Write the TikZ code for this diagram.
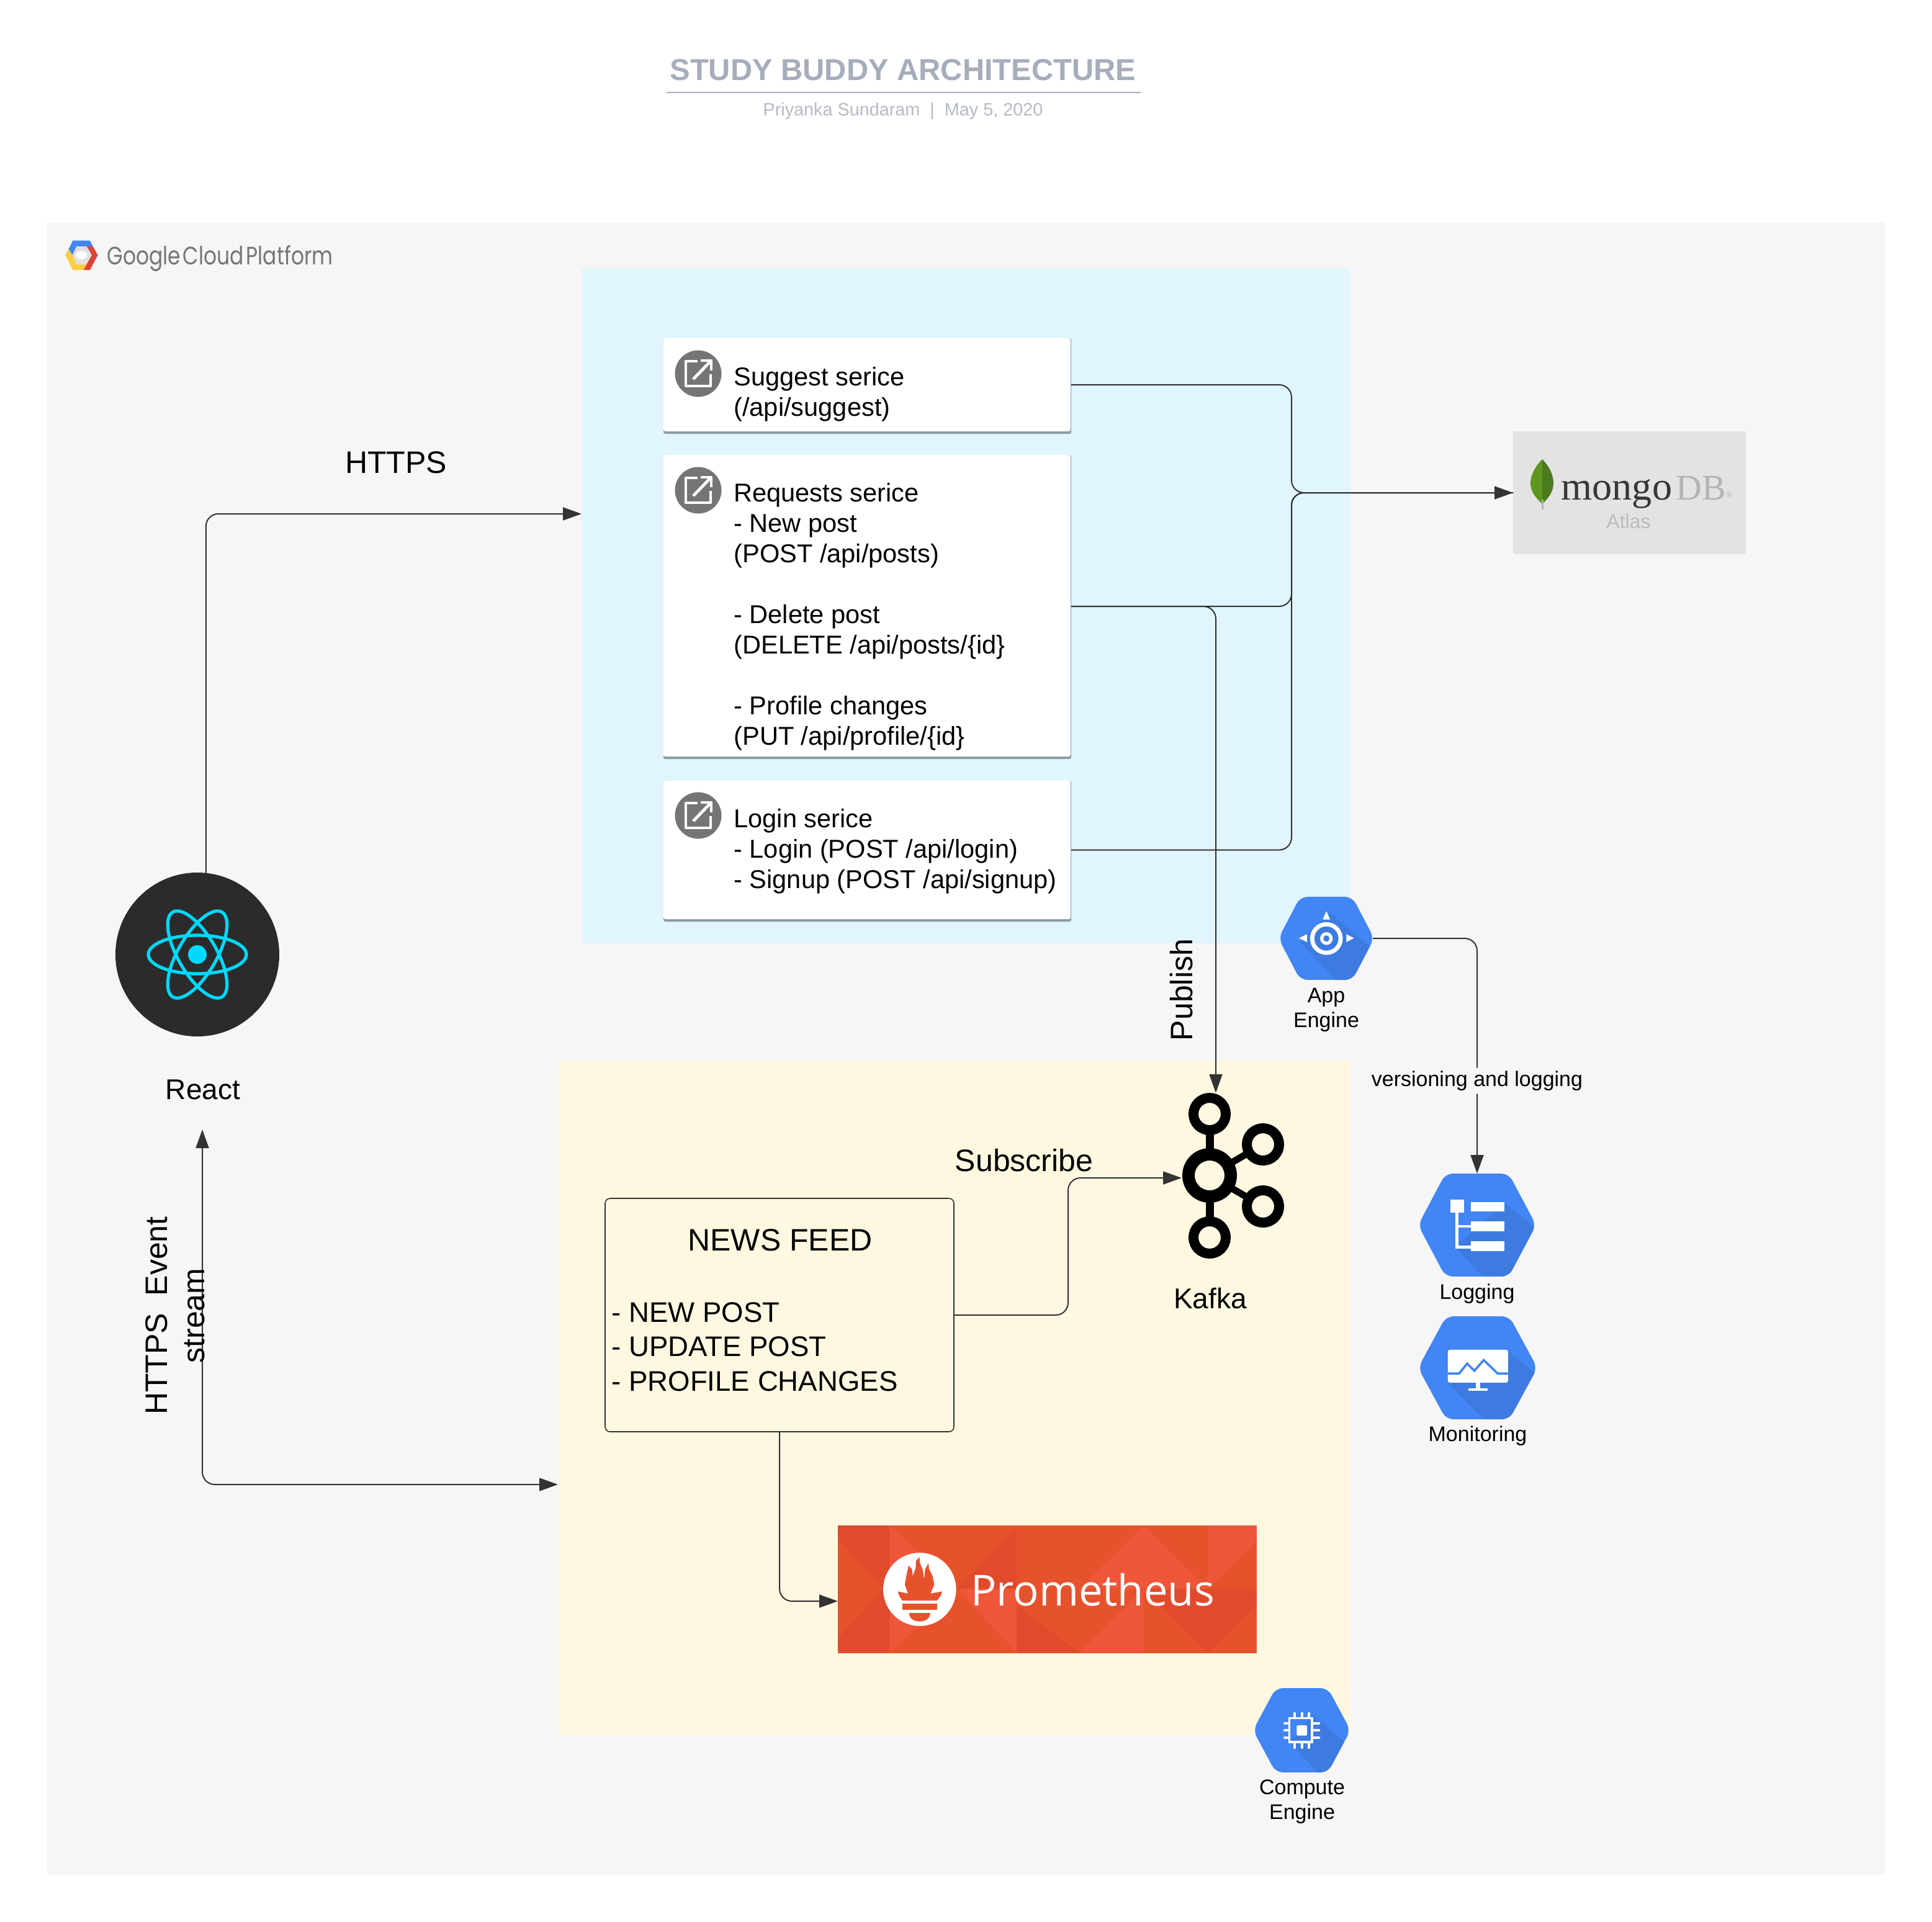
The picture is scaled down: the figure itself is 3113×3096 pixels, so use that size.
\documentclass[tikz,border=0pt]{standalone}
\usepackage{fontspec}
\usepackage{graphicx}
\setmainfont{Liberation Sans}
\newfontfamily\promfont{Open Sans}
\newfontfamily\gfont{Poppins}
\newfontfamily\mongofont{Liberation Serif}
\usetikzlibrary{arrows.meta,calc}
\definecolor{gcpbg}{HTML}{F6F6F6}
\definecolor{bluereg}{HTML}{E1F5FE}
\definecolor{yellowreg}{HTML}{FFF8E1}
\definecolor{conn}{HTML}{333333}
\definecolor{gcpblue}{HTML}{4285F4}
\definecolor{gcpshade}{HTML}{3D7BE0}
\definecolor{titlec}{HTML}{A6ADBB}
\definecolor{subc}{HTML}{B5BAC5}
\definecolor{cardedge}{HTML}{8A9BA5}
\definecolor{iconc}{HTML}{757575}
\definecolor{promb}{HTML}{E6522C}
\definecolor{proml}{HTML}{F0563A}
\definecolor{promd}{HTML}{E24A2C}
\definecolor{reactc}{HTML}{00D8FF}
\definecolor{leafl}{HTML}{5E9620}
\definecolor{leafd}{HTML}{4A7B1E}
\definecolor{gred}{HTML}{DB4437}
\definecolor{gyellow}{HTML}{FFCD44}
\definecolor{mongodark}{HTML}{3A3536}
\definecolor{mongolight}{HTML}{B8B3B3}
\definecolor{atlasc}{HTML}{BDBCBC}
\definecolor{mongobg}{HTML}{E3E3E3}
\newcommand\fsz[2]{\fontsize{#1}{#2}\selectfont}
\newcommand\hexfill[6]{%
  \begin{scope}
    \clip[rounded corners=6pt] ({#1-#3},#2)--({#1-#4},{#2-#5})--({#1+#4},{#2-#5})--({#1+#3},#2)--({#1+#4},{#2+#5})--({#1-#4},{#2+#5})--cycle;
    \fill[gcpblue] ({#1-#3},{#2-#5}) rectangle ({#1+#3},{#2+#5});
    #6
  \end{scope}}
\tikzset{
  regionbox/.style={rectangle,inner sep=0pt,outer sep=0pt},
  cardbox/.style={regionbox,fill=cardedge,rounded corners=1.5pt},
  connline/.style={draw=conn,line width=1pt,rounded corners=10pt},
  arrowend/.style={-{Triangle[length=15pt,width=10.5pt]}},
  arrowboth/.style={{Triangle[length=15pt,width=10.5pt]}-{Triangle[length=15pt,width=10.5pt]}},
  cardtext/.style={anchor=base west,align=left,inner sep=0pt,font=\fsz{20.8}{24.5}},
  lbl/.style={inner sep=0pt,font=\fsz{25}{30}},
  lblsm/.style={inner sep=0pt,align=center,font=\fsz{17}{20}},
  hexnode/.style={rectangle,inner sep=0pt,outer sep=0pt},
  z3/.style={shift={(2000,1400)},xscale=.3954,yscale=.6378},
  z8/.style={shift={(2000,2700)},xscale=.3333,yscale=.3333},
  z5/.style={shift={(1340,2440)},xscale=.459,yscale=.3333},
  z1/.style={shift={(60,340)},xscale=.3827,yscale=.3333},
  svcicon/.pic={
    \fill[iconc] (0,0) circle (37.5);
    \draw[white,line width=2.4pt,line join=round] (-1,-20)--(-20,-20)--(-20,20)--(20,20)--(20,1);
    \draw[white,line width=2.4pt] (-8,9)--(19,-19);
    \draw[white,line width=2.4pt,line join=round] (4,-21)--(21,-21)--(21,-5);
  },
}
\begin{document}
\begin{tikzpicture}[x=.5pt,y=-.5pt]
\useasboundingbox (0,0) rectangle (3113,3096);
\fill[white] (0,0) rectangle (3113,3096);

% title
\node[inner sep=0pt,font=\fsz{24.4}{28}\bfseries,text=titlec] (title) at (1455,113) {STUDY BUDDY ARCHITECTURE};
\coordinate (ruleL) at (1074,149);
\coordinate (ruleR) at (1838,149);
\draw[titlec,line width=1pt] (ruleL) -- (ruleR);
\node[inner sep=0pt,font=\fsz{14.4}{18},text=subc] (subtitle) at (1455,179) {Priyanka Sundaram\ \ |\ \ May 5, 2020};

% regions
\node[regionbox,fill=gcpbg,minimum width=1481pt,minimum height=1331pt] (gcp) at (1556,1689) {};
\node[regionbox,fill=bluereg,minimum width=619pt,minimum height=543.5pt] (appregion) at (1556,976.5) {};
\node[regionbox,fill=yellowreg,minimum width=637.5pt,minimum height=543pt] (computeregion) at (1537.5,2252) {};

% google logo
\begin{scope}[z1]
  \fill[black!12] (148,213)--(165,170)--(208,170)--(230,213)--(208,258)--(165,258)--cycle;
  \fill[white] (186,213) ellipse (24 and 20);
  \fill[gcpblue] (150,143)--(222,143)--(235,172)--(165,170)--(148,213)--(132,185)--cycle;
  \fill[gred] (208,170)--(235,172)--(255,213)--(222,285)--(195,285)--(208,258)--(230,213)--cycle;
  \fill[gyellow] (118,213)--(132,185)--(148,213)--(165,258)--(208,258)--(195,285)--(150,285)--cycle;
\end{scope}
\node[anchor=base west,inner sep=0pt,text=iconc] (gcplabel) at (172,426) {\resizebox{182pt}{15.5pt}{\gfont\fsz{20}{24}\spaceskip=.12em Google Cloud Platform}};

% service cards
\node[cardbox,minimum width=328.5pt,minimum height=77pt] (suggest) at (1397.5,622) {};
\fill[white,rounded corners=1.5pt] (1069,545) rectangle (1725,695);
\node[cardbox,minimum width=328.5pt,minimum height=245pt] (requests) at (1397.5,978) {};
\fill[white,rounded corners=1.5pt] (1069,733) rectangle (1725,1219);
\node[cardbox,minimum width=328.5pt,minimum height=113.5pt] (login) at (1397.5,1371.5) {};
\fill[white,rounded corners=1.5pt] (1069,1258) rectangle (1725,1481);
\pic at (1125,602) {svcicon};
\pic at (1125,790) {svcicon};
\pic at (1125,1314) {svcicon};
\node[cardtext] (suggesttext) at (1182,670) {Suggest serice\\(/api/suggest)};
\node[cardtext] (requeststext) at (1182,1200) {Requests serice\\- New post\\(POST /api/posts)\\[24.5pt]- Delete post\\(DELETE /api/posts/\{id\}\\[24.5pt]- Profile changes\\(PUT /api/profile/\{id\}};
\node[cardtext] (logintext) at (1182,1431) {Login serice\\- Login (POST /api/login)\\- Signup (POST /api/signup)};

% mongo
\node[regionbox,fill=mongobg,minimum width=187.5pt,minimum height=99pt] (mongo) at (2625.5,794) {};
\fill[leafl] (2485,740) .. controls (2470,755) and (2466,770) .. (2466,778) .. controls (2466,795) and (2478,805) .. (2485,812) -- cycle;
\fill[leafd] (2485,740) .. controls (2500,755) and (2503,770) .. (2503,778) .. controls (2503,795) and (2492,805) .. (2485,812) -- cycle;
\fill[black!30] (2484,805) rectangle (2487,821);
\node[anchor=base west,inner sep=0pt,font=\mongofont\fsz{32.2}{36},text=mongodark] (mongoname) at (2515,805) {mongo\hspace{3pt}\textcolor{mongolight}{\fsz{29}{34}DB\raisebox{2pt}{\fsz{7}{8}\textregistered}}};
\node[anchor=base,inner sep=0pt,font=\fsz{16}{18},text=atlasc] (atlas) at (2624,851) {Atlas};

% react
\node[circle,fill=black!83,inner sep=0pt,outer sep=0pt,minimum size=132pt] (react) at (318,1538) {};
\foreach \a in {0,60,120}{\draw[reactc,line width=2.6pt,rotate around={\a:(318,1538)}] (318,1538) ellipse (79 and 31);}
\fill[reactc] (318,1538) circle (15);
\node[lbl,font=\fsz{23}{28}] (reactlabel) at (327,1756) {React};

% yellow region contents
\node[regionbox,draw=conn,line width=.8pt,rounded corners=4pt,minimum width=281pt,minimum height=188pt] (news) at (1256,2119) {};
\node[lbl] (newstitle) at (1257,1998) {NEWS FEED};
\node[anchor=base west,align=left,inner sep=0pt,font=\fsz{22.8}{27.7}] (newstext) at (985,2241) {- NEW POST\\- UPDATE POST\\- PROFILE CHANGES};

% prometheus
\node[regionbox,fill=promb,minimum width=337.5pt,minimum height=103pt] (prom) at (1687.5,2561) {};
\begin{scope}[z5]
  \fill[promd] (22,54)--(204,54)--(204,670)--(22,670)--(22,600)--(180,360)--(22,120)--cycle;
  \fill[proml] (204,54)--(440,360)--(204,670)--cycle;
  \fill[promd] (650,54)--(440,360)--(650,360)--cycle;
  \fill[proml] (440,360)--(650,360)--(650,670)--cycle;
  \fill[promd] (650,440)--(870,670)--(650,670)--cycle;
  \fill[proml] (1095,54)--(1320,360)--(870,360)--cycle;
  \fill[proml] (870,670)--(1095,360)--(1095,670)--cycle;
  \fill[promd] (1095,360)--(1492,360)--(1492,440)--(1320,670)--cycle;
  \fill[proml] (1320,54)--(1492,54)--(1492,130)--(1320,360)--cycle;
  \fill[white] (309,363) ellipse (128 and 177);
  \fill[promb] (232,373)--(268,383)--(257,340)--(262,300)--(270,248)--(282,265)--(285,298)--(295,260)--(296,225)--(308,207)--(310,235)--(320,270)--(325,315)--(328,265)--(340,237)--(342,265)--(355,300)--(360,340)--(347,383)--(388,373)--(382,395)--(370,417)--(248,417)--(238,395)--cycle;
  \fill[promb] (248,432) rectangle (370,462);
  \fill[promb] (272,477)--(346,477) .. controls (346,505) and (328,518) .. (309,518) .. controls (290,518) and (272,505) .. (272,477) -- cycle;
\end{scope}
\node[anchor=base west,inner sep=0pt,font=\promfont\fsz{34.4}{40},text=white] (promtext) at (1564,2587) {Prometheus};

% kafka
\node[circle,draw=black,line width=10pt,inner sep=0pt,minimum size=34pt,outer sep=0pt] (kafka) at (1949,1894) {};
\node[circle,draw=black,line width=8pt,inner sep=0pt,minimum size=26pt,outer sep=0pt] (kafkaa) at (1949,1795) {};
\node[circle,draw=black,line width=8pt,inner sep=0pt,minimum size=26pt,outer sep=0pt] (kafkab) at (2035,1844) {};
\node[circle,draw=black,line width=8pt,inner sep=0pt,minimum size=26pt,outer sep=0pt] (kafkac) at (2035,1944) {};
\node[circle,draw=black,line width=8pt,inner sep=0pt,minimum size=26pt,outer sep=0pt] (kafkad) at (1949,1994) {};
\draw[black,line width=6.5pt] (kafka) -- (kafkaa);
\draw[black,line width=5.5pt] (kafka) -- (kafkab);
\draw[black,line width=5.5pt] (kafka) -- (kafkac);
\draw[black,line width=6.5pt] (kafka) -- (kafkad);
\node[lbl,font=\fsz{23}{28}] (kafkalabel) at (1950,2092) {Kafka};

% GCP hexes
\hexfill{2137}{1512}{77}{42}{67}{\begin{scope}[z3]\fill[gcpshade] (360,110)--(540,205)--(440,290)--(400,290)--(240,185)--cycle;\end{scope}}
\node[hexnode,minimum width=75pt,minimum height=67pt] (appengine) at (2137,1512) {};
\begin{scope}[z3]
  \fill[white] (347,107)--(332,128)--(362,128)--cycle;
  \fill[white] (235,175)--(268,165)--(268,185)--cycle;
  \fill[white] (460,175)--(428,165)--(428,185)--cycle;
  \draw[white,line width=3.4pt] (347,176) ellipse (58 and 36);
  \draw[white,line width=2.6pt] (347,176) ellipse (19 and 12);
\end{scope}
\node[lblsm] (applabel) at (2137,1627) {App\\Engine};

\hexfill{2380}{1974}{95}{51}{83}{\begin{scope}[z3]\fill[gcpshade] (1075,845)--(1197,905)--(1090,1030)--(985,1030)--(870,955)--cycle;\end{scope}}
\node[hexnode,minimum width=93pt,minimum height=83pt] (logging) at (2380,1974) {};
\begin{scope}[z3]
  \fill[white] (852,835) rectangle (907,868);
  \fill[white] (936,842) rectangle (1072,866);
  \fill[white] (936,891) rectangle (1072,916);
  \fill[white] (936,941) rectangle (1072,966);
  \draw[white,line width=2.4pt] (879,868)--(879,955)--(936,955);
  \draw[white,line width=2.4pt] (879,903)--(936,903);
\end{scope}
\node[lblsm] (logginglabel) at (2380,2085) {Logging};

\hexfill{2381}{2204}{96}{51}{83}{\begin{scope}[z3]\fill[gcpshade] (1087,1218)--(1201,1275)--(1100,1400)--(990,1390)--(842,1298)--cycle;\end{scope}}
\node[hexnode,minimum width=94pt,minimum height=83pt] (monitoring) at (2381,2204) {};
\begin{scope}[z3]
  \fill[white,rounded corners=1.5pt] (842,1215) rectangle (1087,1298);
  \draw[gcpblue,line width=1.8pt] (842,1275)--(888,1275)--(920,1250)--(950,1268)--(988,1241)--(1045,1275)--(1087,1275);
  \fill[white] (957,1298) rectangle (973,1313);
  \fill[white] (925,1313) rectangle (1003,1319);
\end{scope}
\node[lblsm] (monitoringlabel) at (2381,2314) {Monitoring};

\hexfill{2097.5}{2788}{78.5}{42}{68}{\begin{scope}[z8]\fill[gcpshade] (345,190)--(510,330)--(410,475)--(370,468)--(235,325)--cycle;\end{scope}}
\node[hexnode,minimum width=76.5pt,minimum height=68pt] (compute) at (2097.5,2788) {};
\begin{scope}[z8]
  \draw[white,line width=2pt,line cap=round] (258,182)--(258,200) (293,182)--(293,200) (328,182)--(328,200);
  \draw[white,line width=2pt,line cap=round] (258,325)--(258,348) (293,325)--(293,348) (328,325)--(328,348);
  \draw[white,line width=2pt,line cap=round] (210,230)--(228,230) (210,265)--(228,265) (210,300)--(228,300);
  \draw[white,line width=2pt,line cap=round] (345,230)--(376,230) (345,265)--(376,265) (345,300)--(376,300);
  \draw[white,line width=1.8pt] (233,205) rectangle (342,320);
  \fill[white,rounded corners=1pt] (268,240) rectangle (318,290);
\end{scope}
\node[lblsm] (computelabel) at (2098,2903) {Compute\\Engine};

% connector helpers
\coordinate (junction) at (2081,794);
\coordinate (httpsin) at (937,828);
\coordinate (kafkatop) at (1959,1761);
\coordinate (kafkain) at (1904,1898);
\coordinate (newsbend) at (1721,2119);
\coordinate (prominlet) at (1350,2580);
\coordinate (streamtop) at (326,1820);
\coordinate (streamin) at (899,2392);

% connectors
\draw[connline] ($(suggest.east)+(0,-2)$) -| (junction) -- (mongo.west);
\draw[connline] ($(requests.east)+(0,-1)$) -| (junction) -- (mongo.west);
\draw[connline,arrowend] ($(login.east)+(0,-2)$) -| (junction) -- (mongo.west);
\draw[connline,arrowend] ($(requests.east)+(0,-1)$) -| (kafkatop);
\draw[connline,arrowend] (react.84) |- (httpsin);
\draw[connline,arrowboth] (streamtop) |- (streamin);
\draw[connline,arrowend] (news.east) -- (newsbend) |- (kafkain);
\draw[connline,arrowend] (news.south) |- (prominlet);
\draw[connline,arrowend] (appengine.east) -| node[pos=.803,fill=gcpbg,inner sep=0pt,minimum height=21pt,font=\fsz{17}{20}] (verlabel) {versioning and logging} (logging.north);

% labels
\node[lbl] (httpslabel) at (638,745) {HTTPS};
\node[lbl,rotate=90] (publishlabel) at (1904,1595) {Publish};
\node[lbl] (subscribelabel) at (1650,1870) {Subscribe};
\node[lbl,rotate=90,align=center] (streamlabel) at (282,2120) {HTTPS\ \ Event\\stream};
\end{tikzpicture}
\end{document}
